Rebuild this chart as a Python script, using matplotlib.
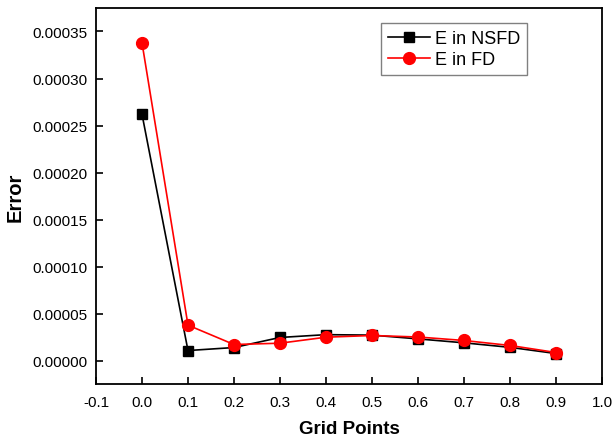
import matplotlib
matplotlib.use("Agg")
import matplotlib.pyplot as plt
import numpy as np

plt.rcParams["font.family"] = ["Liberation Sans", "DejaVu Sans"]

grid_points = [0.0, 0.1, 0.2, 0.3, 0.4, 0.5, 0.6, 0.7, 0.8, 0.9]
err_nsfd = [2.62e-4, 1.06e-5, 1.38e-5, 2.45e-5, 2.75e-5, 2.7e-5, 2.3e-5, 1.88e-5, 1.4e-5, 0.74e-5]
err_fd = [3.38e-4, 3.76e-5, 1.7e-5, 1.84e-5, 2.48e-5, 2.66e-5, 2.5e-5, 2.13e-5, 1.6e-5, 0.85e-5]

fig = plt.figure(figsize=(6.13, 4.39), dpi=100)
ax = fig.add_axes([0.1566, 0.123, 0.8254, 0.8565])

ax.plot(grid_points, err_nsfd, color="black", marker="s", markersize=7,
        linewidth=1.2, label="E in NSFD")
ax.plot(grid_points, err_fd, color="red", marker="o", markersize=8.5,
        linewidth=1.2, label="E in FD")

ax.set_xlim(-0.1, 1.0)
ax.set_ylim(-0.000025, 0.000375)
xt = np.arange(-0.1, 1.01, 0.1)
ax.set_xticks(xt)
ax.set_xticklabels([f"{v:.1f}" for v in xt])
yt = np.arange(0, 0.00036, 0.00005)
ax.set_yticks(yt)
ax.set_yticklabels([f"{v:.5f}" for v in yt])

ax.tick_params(direction="in", length=5, width=1.2, labelsize=11,
               top=False, right=False)
ax.tick_params(axis="y", pad=6)
ax.tick_params(axis="x", pad=8)
for s in ax.spines.values():
    s.set_linewidth(1.3)

ax.set_xlabel("Grid Points", fontsize=13.5, fontweight="bold", labelpad=8)
ax.set_ylabel("Error", fontsize=14.5, fontweight="bold", labelpad=6)

leg = ax.legend(loc="upper left", bbox_to_anchor=(0.563, 0.96), fontsize=13,
                fancybox=False, edgecolor="gray", framealpha=1,
                handlelength=2.3, borderpad=0.4, labelspacing=0.2,
                handletextpad=0.3, borderaxespad=0)
leg.get_frame().set_linewidth(1.0)

fig.savefig("out.png", dpi=100)
